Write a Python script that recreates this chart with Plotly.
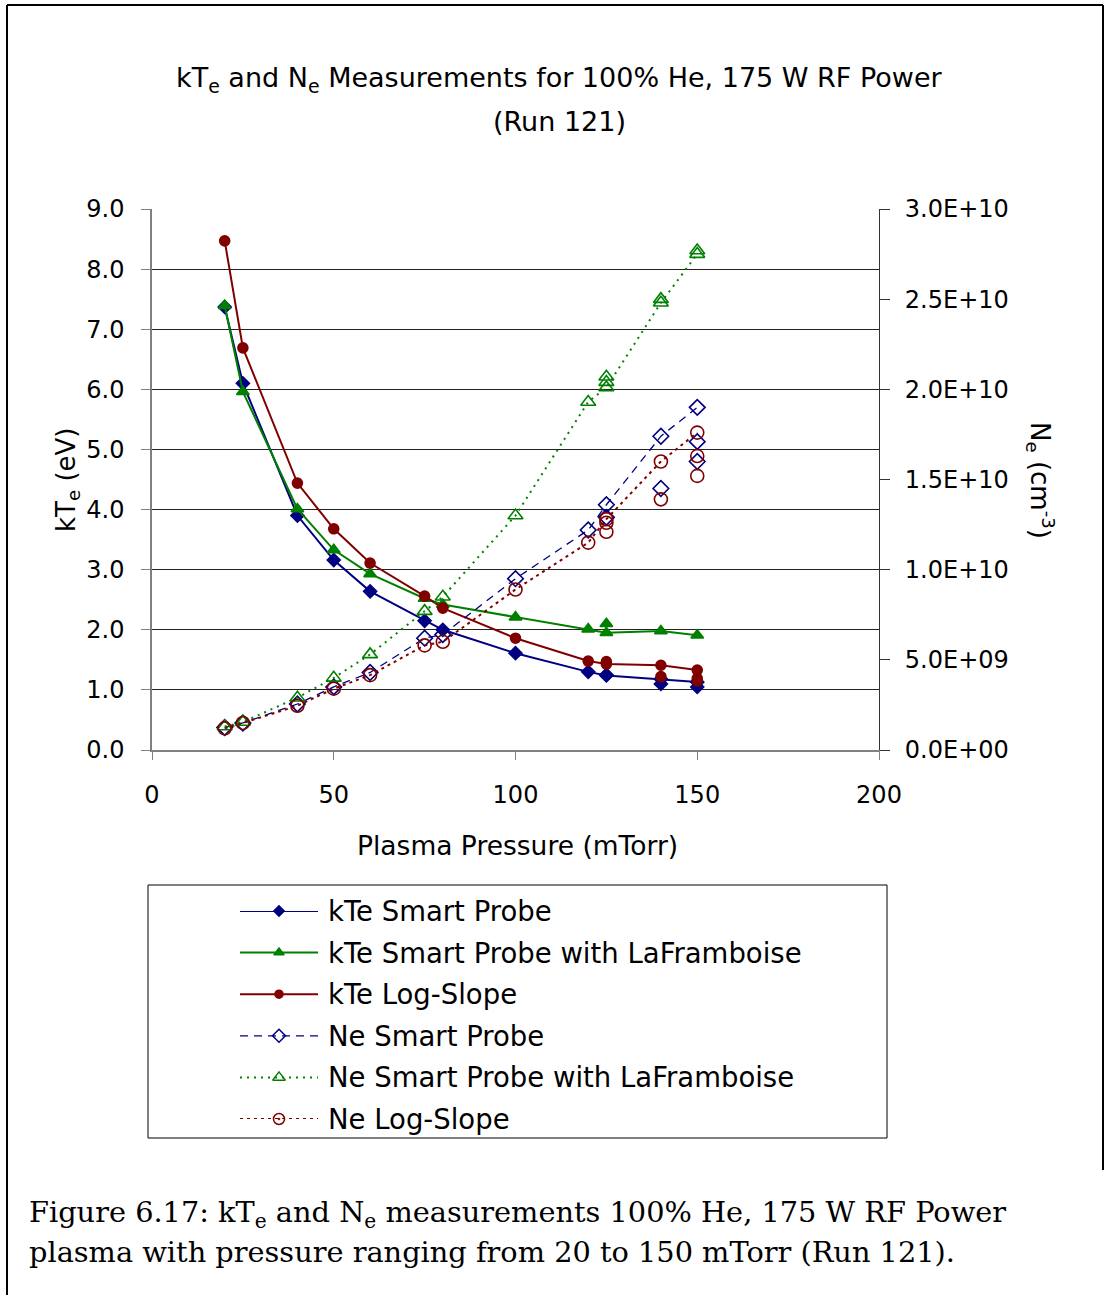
import plotly.graph_objects as go

W, H = 1107, 1295
def px(x): return x / W
def py(y): return 1 - y / H

# ---------------- data ----------------
pressure = [20, 25, 40, 50, 60, 75, 80, 100, 120, 125, 140, 150]

kte_smart = [7.37, 6.10, 3.90, 3.16, 2.64, 2.15, 2.00, 1.61, 1.30, 1.24, 1.18, 1.13]
kte_smart_extra_p = [125, 140, 150]
kte_smart_extra = [1.25, 1.10, 1.05]

kte_lafr = [7.39, 5.96, 4.01, 3.33, 2.93, 2.52, 2.42, 2.21, 2.01, 1.95, 1.98, 1.91]
kte_lafr_extra_p = [125]
kte_lafr_extra = [2.10]

kte_log = [8.47, 6.69, 4.44, 3.68, 3.11, 2.56, 2.36, 1.86, 1.48, 1.43, 1.41, 1.33]
kte_log_extra_p = [125, 140, 150, 150]
kte_log_extra = [1.47, 1.22, 1.19, 1.15]

ne_smart = [1.25e9, 1.50e9, 2.55e9, 3.50e9, 4.30e9, 6.20e9, 6.40e9, 9.50e9, 1.22e10, 1.36e10, 1.74e10, 1.90e10]
ne_smart_extra_p = [125, 140, 150, 150]
ne_smart_extra = [1.29e10, 1.45e10, 1.71e10, 1.60e10]

ne_lafr = [1.30e9, 1.55e9, 2.90e9, 4.00e9, 5.30e9, 7.70e9, 8.50e9, 1.30e10, 1.93e10, 2.01e10, 2.48e10, 2.75e10]
ne_lafr_extra_p = [125, 125, 140, 150]
ne_lafr_extra = [2.04e10, 2.07e10, 2.50e10, 2.77e10]

ne_log = [1.20e9, 1.50e9, 2.45e9, 3.40e9, 4.15e9, 5.80e9, 6.00e9, 8.90e9, 1.15e10, 1.28e10, 1.60e10, 1.76e10]
ne_log_extra_p = [125, 125, 140, 150, 150]
ne_log_extra = [1.26e10, 1.21e10, 1.39e10, 1.63e10, 1.52e10]

left_tickvals = [0, 1, 2, 3, 4, 5, 6, 7, 8, 9]
left_ticktext = ["0.0", "1.0", "2.0", "3.0", "4.0", "5.0", "6.0", "7.0", "8.0", "9.0"]
right_tickvals = [0, 5e9, 1e10, 1.5e10, 2e10, 2.5e10, 3e10]
right_ticktext = ["0.0E+00", "5.0E+09", "1.0E+10", "1.5E+10", "2.0E+10", "2.5E+10", "3.0E+10"]
x_tickvals = [0, 50, 100, 150, 200]

series_names = ["kTe Smart Probe", "kTe Smart Probe with LaFramboise", "kTe Log-Slope",
                "Ne Smart Probe", "Ne Smart Probe with LaFramboise", "Ne Log-Slope"]

# ---------------- styles ----------------
NAVY, GREEN, MAROON = "#000080", "#008000", "#800000"
FONT = "DejaVu Sans"
styles = [
    dict(color=NAVY, dash="solid", width=2, symbol="diamond", size=10),
    dict(color=GREEN, dash="solid", width=2, symbol="triangle-up", size=11),
    dict(color=MAROON, dash="solid", width=2, symbol="circle", size=10),
    dict(color=NAVY, dash="8px,6px", width=1.3, symbol="diamond-open", size=12),
    dict(color=GREEN, dash="2px,5px", width=2, symbol="triangle-up-open", size=13),
    dict(color=MAROON, dash="3px,4px", width=2, symbol="circle-open", size=13),
]

data_sets = [
    (kte_smart, kte_smart_extra_p, kte_smart_extra, "y"),
    (kte_lafr, kte_lafr_extra_p, kte_lafr_extra, "y"),
    (kte_log, kte_log_extra_p, kte_log_extra, "y"),
    (ne_smart, ne_smart_extra_p, ne_smart_extra, "y2"),
    (ne_lafr, ne_lafr_extra_p, ne_lafr_extra, "y2"),
    (ne_log, ne_log_extra_p, ne_log_extra, "y2"),
]

fig = go.Figure()
order = [3, 4, 5, 0, 1, 2]
for i in order:
    vals, ep, ev, yax = data_sets[i]
    s = styles[i]
    mk = dict(symbol=s["symbol"], size=s["size"], color=s["color"],
              line=dict(color=s["color"], width=1.6))
    fig.add_trace(go.Scatter(x=pressure, y=vals, mode="lines+markers", xaxis="x", yaxis=yax,
                             line=dict(color=s["color"], dash=s["dash"], width=s["width"]),
                             marker=mk, showlegend=False, cliponaxis=False))
    fig.add_trace(go.Scatter(x=ep, y=ev, mode="markers", xaxis="x", yaxis=yax,
                             marker=mk, showlegend=False, cliponaxis=False))

# custom legend samples drawn on a hidden helper axis
for i, s in enumerate(styles):
    sym = s["symbol"]
    if i == 5:
        sym = "circle-open-dot"
    fig.add_trace(go.Scatter(x=[0, 1], y=[i, i], mode="lines", xaxis="x3", yaxis="y3",
                             line=dict(color=s["color"], dash=s["dash"], width=s["width"]),
                             showlegend=False, cliponaxis=False, hoverinfo="skip"))
    fig.add_trace(go.Scatter(x=[0.5], y=[i], mode="markers", xaxis="x3", yaxis="y3",
                             marker=dict(symbol=sym, size=s["size"] - 2, color=s["color"],
                                         line=dict(color=s["color"], width=1.5)),
                             showlegend=False, cliponaxis=False, hoverinfo="skip"))

tickfont = dict(family=FONT, size=24, color="black")
fig.update_layout(
    width=W, height=H,
    margin=dict(l=0, r=0, t=0, b=0),
    paper_bgcolor="white", plot_bgcolor="white",
    showlegend=False,
    xaxis=dict(domain=[px(152), px(879)], range=[0, 200], tickvals=x_tickvals,
               showgrid=False, zeroline=False, showline=True, linecolor="#808080", linewidth=1.5,
               ticks="outside", ticklen=8, tickcolor="#808080", tickfont=tickfont,
               ticklabelstandoff=14, anchor="y", automargin=False),
    yaxis=dict(domain=[py(750), py(209)], range=[0, 9], tickvals=left_tickvals, ticktext=left_ticktext,
               showgrid=True, gridcolor="#222222", gridwidth=1, zeroline=False,
               showline=True, linecolor="#808080", linewidth=1.5,
               ticks="outside", ticklen=9, tickcolor="#808080", tickfont=tickfont,
               ticklabelstandoff=12, anchor="x", automargin=False),
    yaxis2=dict(domain=[py(750), py(209)], range=[0, 3e10], tickvals=right_tickvals, ticktext=right_ticktext,
                overlaying="y", side="right", anchor="x", showgrid=False, zeroline=False,
                showline=True, linecolor="#333333", linewidth=1,
                ticks="outside", ticklen=10, tickcolor="#333333", tickfont=tickfont,
                ticklabelstandoff=10, automargin=False),
    xaxis3=dict(domain=[px(240), px(318)], range=[0, 1], visible=False, anchor="y3"),
    yaxis3=dict(domain=[py(1119), py(911)], range=[5, 0], visible=False, anchor="x3"),
)

ann = []
ann.append(dict(text="kT<sub>e</sub> and N<sub>e</sub> Measurements for 100% He, 175 W RF Power",
                x=px(559), y=py(80), xref="paper", yref="paper", showarrow=False,
                xanchor="center", yanchor="middle", font=dict(family=FONT, size=27, color="black")))
ann.append(dict(text="(Run 121)", x=px(559), y=py(122), xref="paper", yref="paper", showarrow=False,
                xanchor="center", yanchor="middle", font=dict(family=FONT, size=27, color="black")))
ann.append(dict(text="kT<sub>e</sub> (eV)", x=px(68), y=py(480), xref="paper", yref="paper",
                showarrow=False, textangle=-90, xanchor="center", yanchor="middle",
                font=dict(family=FONT, size=26, color="black")))
ann.append(dict(text="N<sub>e</sub> (cm<sup>-3</sup>)", x=px(1040), y=py(480), xref="paper", yref="paper",
                showarrow=False, textangle=90, xanchor="center", yanchor="middle",
                font=dict(family=FONT, size=26, color="black")))
ann.append(dict(text="Plasma Pressure (mTorr)", x=px(517), y=py(845), xref="paper", yref="paper",
                showarrow=False, xanchor="center", yanchor="middle",
                font=dict(family=FONT, size=26.5, color="black")))
for i, name in enumerate(series_names):
    ann.append(dict(text=name, x=px(326), y=i, xref="paper", yref="y3", showarrow=False,
                    xanchor="left", yanchor="middle", font=dict(family=FONT, size=27.5, color="black")))
ann.append(dict(text="Figure 6.17: kT<sub>e</sub> and N<sub>e</sub> measurements 100% He, 175 W RF Power",
                x=px(27), y=py(1214), xref="paper", yref="paper", showarrow=False,
                xanchor="left", yanchor="middle", font=dict(family="DejaVu Serif", size=28.8, color="black")))
ann.append(dict(text="plasma with pressure ranging from 20 to 150 mTorr (Run 121).",
                x=px(27), y=py(1252), xref="paper", yref="paper", showarrow=False,
                xanchor="left", yanchor="middle", font=dict(family="DejaVu Serif", size=28.8, color="black")))
fig.update_layout(annotations=ann)

shapes = [
    dict(type="rect", xref="paper", yref="paper", x0=px(148), x1=px(887), y0=py(1138), y1=py(885),
         line=dict(color="black", width=1), fillcolor="rgba(0,0,0,0)"),
    dict(type="line", xref="paper", yref="paper", x0=px(7), x1=px(7), y0=0, y1=py(5),
         line=dict(color="black", width=2)),
    dict(type="line", xref="paper", yref="paper", x0=px(7), x1=px(1103), y0=py(5), y1=py(5),
         line=dict(color="black", width=2)),
    dict(type="line", xref="paper", yref="paper", x0=px(1103), x1=px(1103), y0=py(5), y1=py(1170),
         line=dict(color="black", width=2)),
]
fig.update_layout(shapes=shapes)

fig.write_html("out.html")
